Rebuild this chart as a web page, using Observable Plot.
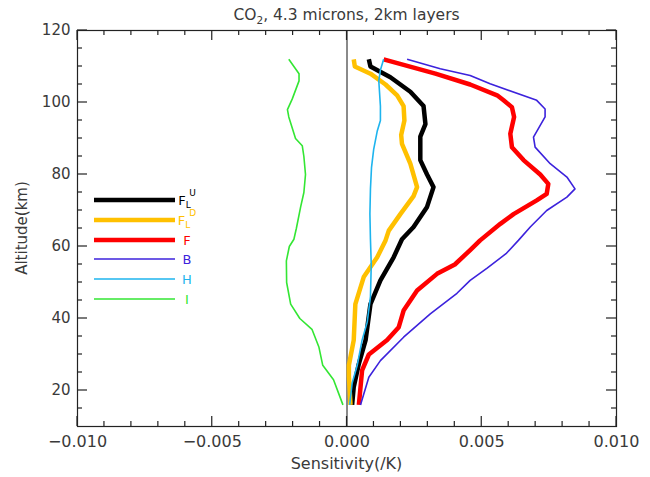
<!DOCTYPE html>
<html><head><meta charset="utf-8">
<script src="https://cdn.jsdelivr.net/npm/d3@7"></script>
<script src="https://cdn.jsdelivr.net/npm/@observablehq/plot@0.6"></script>
<style>body{margin:0;background:#fff;} svg{font-family:"DejaVu Sans",sans-serif;}</style>
</head><body><div id="chart"></div>
<script>
// ---- data (altitude km, sensitivity /K) ----
const altFLU = [112,110,107,103,99,94,90.5,84,80,76.5,71,65.4,62,57,50.6,44,39,34,27.4,21,16];
const valFLU = [0.00081,0.00087,0.00161,0.00235,0.00284,0.00291,0.00272,0.00272,0.00297,0.00321,0.00297,0.00247,0.00204,0.00173,0.00124,0.00087,0.00078,0.00069,0.00044,0.00025,0.00019];

const altFLD = [112,110,108,105,102,99,95,91,88.5,83,76.5,74,69,64.4,61.7,57,51.5,44,34,27,24,16];
const valFLD = [0.00025,0.00029,0.00087,0.00143,0.00186,0.0021,0.00213,0.00201,0.00204,0.00235,0.0026,0.00247,0.00198,0.00155,0.00143,0.00112,0.00062,0.00031,0.00025,0.00007,0.00007,0.00013];

const altF = [112,108,105,102,100.6,98.7,96,91.3,87.6,84,80,77.4,74.6,72.8,69,66.3,61.7,59,55,52.4,47.8,42.2,37.6,34,30,25.6,16];
const valF = [0.00136,0.00328,0.00457,0.00557,0.00581,0.00612,0.0062,0.00606,0.00612,0.00655,0.00717,0.00747,0.00741,0.00704,0.00618,0.00569,0.00494,0.00457,0.004,0.00334,0.0026,0.0021,0.00192,0.00149,0.00081,0.00056,0.00044];

const altB = [112,109.4,107.5,105.2,100.6,98.2,96,90.4,87.6,83,79.3,76,73.7,70,65.4,61.7,58,54,50.6,47,41.3,34.8,28.3,23.7,16];
const valB = [0.00223,0.00346,0.00457,0.00531,0.00704,0.00735,0.00735,0.00692,0.00698,0.00754,0.00816,0.00846,0.00816,0.00741,0.0068,0.00636,0.0059,0.0052,0.00457,0.00408,0.00309,0.0021,0.00124,0.00081,0.0005];

const altH = [112,109,106,99,95,92,87,82,76,69,62,55,46,39,34,27,22,16];
const valH = [0.00136,0.00124,0.00118,0.00124,0.00124,0.00112,0.00099,0.00091,0.00087,0.00085,0.00087,0.0009,0.00087,0.00075,0.00056,0.00038,0.00019,0.0001];

const altI = [112,108,106,101,98,96,90,88,85,80,75,71,65,62,60,56,50,44,40,37,32,27,23,19,16];
const valI = [-0.00216,-0.00178,-0.00178,-0.00203,-0.00221,-0.00216,-0.00191,-0.00166,-0.0016,-0.00154,-0.0016,-0.00172,-0.00188,-0.00197,-0.00214,-0.00225,-0.00224,-0.00209,-0.00175,-0.0013,-0.00104,-0.0009,-0.0005,-0.0003,-0.00015];

const xMajorTicks = [-0.010,-0.005,0.000,0.005,0.010];
const xMinorTicks = [-0.009,-0.008,-0.007,-0.006,-0.004,-0.003,-0.002,-0.001,0.001,0.002,0.003,0.004,0.006,0.007,0.008,0.009];
const yMajorTicks = [20,40,60,80,100,120];
const yMinorTicks = [15,25,30,35,45,50,55,65,70,75,85,90,95,105,110,115];

const series = [
  {key:"FLU", main:"F", sub:"L", sup:"U", alt:altFLU, val:valFLU, color:"#000000", width:4.5},
  {key:"FLD", main:"F", sub:"L", sup:"D", alt:altFLD, val:valFLD, color:"#ffc000", width:4.5},
  {key:"F",   main:"F", alt:altF, val:valF, color:"#ff0000", width:4.5},
  {key:"B",   main:"B", alt:altB, val:valB, color:"#3c22dc", width:1.6},
  {key:"H",   main:"H", alt:altH, val:valH, color:"#1eb4ee", width:1.6},
  {key:"I",   main:"I", alt:altI, val:valI, color:"#33e633", width:1.6}
];

const W = 650, H = 477, mL = 77, mR = 34, mT = 30, mB = 51;
const fmt = d => (d < 0 ? "\u2212" : "") + Math.abs(d).toFixed(3);

const chart = Plot.plot({
  width: W, height: H,
  marginLeft: mL, marginRight: mR, marginTop: mT, marginBottom: mB,
  style: {fontFamily: "DejaVu Sans, sans-serif", fontSize: "15px", color: "#3a3a3a", background: "#fff"},
  x: {domain: [-0.010, 0.010]},
  y: {domain: [10, 120]},
  marks: [
    Plot.ruleX([0], {stroke: "#8a8a8a", strokeWidth: 2}),
    ...series.map(s => Plot.line(s.alt.map((a, i) => ({alt: a, v: s.val[i]})), {
      x: "v", y: "alt", stroke: s.color, strokeWidth: s.width,
      strokeLinejoin: "round", strokeLinecap: "butt"
    })),
    Plot.frame({stroke: "#222", strokeWidth: 1.2}),
    Plot.axisX(xMajorTicks, {anchor: "bottom", tickSize: 0, tickPadding: 9, tickFormat: fmt, label: null, fill: "#3a3a3a", fontSize: 16}),
    Plot.axisY(yMajorTicks, {anchor: "left", tickSize: 0, tickPadding: 7, tickFormat: d => String(d), label: null, fill: "#3a3a3a", fontSize: 15})
  ]
});

document.getElementById("chart").appendChild(chart);
const svg = d3.select(chart);
const sx = chart.scale("x"), sy = chart.scale("y");
const x0 = mL, x1 = W - mR, y0 = mT, y1 = H - mB;
const tg = svg.append("g").attr("stroke", "#222").attr("stroke-width", 1.2);
function xt(v, len) {
  const px = sx.apply(v);
  tg.append("line").attr("x1", px).attr("x2", px).attr("y1", y1).attr("y2", y1 - len);
  tg.append("line").attr("x1", px).attr("x2", px).attr("y1", y0).attr("y2", y0 + len);
}
function yt(v, len) {
  const py = sy.apply(v);
  tg.append("line").attr("x1", x0).attr("x2", x0 + len).attr("y1", py).attr("y2", py);
  tg.append("line").attr("x1", x1).attr("x2", x1 - len).attr("y1", py).attr("y2", py);
}
xMajorTicks.forEach(v => xt(v, 10));
xMinorTicks.forEach(v => xt(v, 5));
yMajorTicks.forEach(v => yt(v, 10));
yMinorTicks.forEach(v => yt(v, 5));

// title
const title = svg.append("text").attr("x", (x0 + x1) / 2).attr("y", 20)
  .attr("text-anchor", "middle").attr("fill", "#3a3a3a").style("font-size", "15.5px");
title.append("tspan").text("CO");
title.append("tspan").text("2").attr("dy", 4).style("font-size", "10.5px");
title.append("tspan").text(", 4.3 microns, 2km layers").attr("dy", -4);

// axis titles
svg.append("text").attr("x", (x0 + x1) / 2).attr("y", 469).attr("text-anchor", "middle")
  .attr("fill", "#3a3a3a").style("font-size", "16px").text("Sensitivity(/K)");
svg.append("text").attr("transform", `translate(27,${(y0 + y1) / 2}) rotate(-90)`).attr("text-anchor", "middle")
  .attr("fill", "#3a3a3a").style("font-size", "15px").text("Altitude(km)");

// legend
const legY = [200, 220, 240, 259, 279, 299];
series.forEach((s, i) => {
  const g = svg.append("g");
  g.append("line").attr("x1", 94).attr("x2", 175).attr("y1", legY[i]).attr("y2", legY[i])
    .attr("stroke", s.color).attr("stroke-width", s.width);
  const t = g.append("text").attr("x", 187).attr("y", legY[i] + 5).attr("fill", s.color).style("font-size", "13px");
  t.append("tspan").text(s.main);
  if (s.sub) {
    t.append("tspan").text(s.sub).attr("dy", 3).style("font-size", "9px");
    t.append("tspan").text(s.sup).attr("dx", -1).attr("dy", -12).style("font-size", "9px");
  }
});
</script>
</body></html>
